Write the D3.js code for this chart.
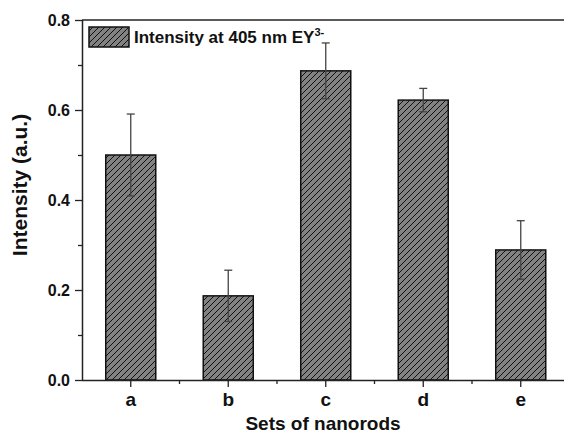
<!DOCTYPE html>
<html><head><meta charset="utf-8">
<script src="https://cdn.jsdelivr.net/npm/d3@7"></script>
<style>
body{margin:0;background:#fff;}
text{font-family:Arial,"Liberation Sans",Helvetica,sans-serif;font-weight:bold;fill:#111;}
</style></head><body>
<svg id="c" width="564" height="439"></svg>
<script>
const categories = ["a","b","c","d","e"];
const values = [0.500, 0.187, 0.687, 0.622, 0.289];
const errors = [0.091, 0.057, 0.062, 0.026, 0.065];
const yTicks = [0.0, 0.2, 0.4, 0.6, 0.8];
const yMinorTicks = [0.1, 0.3, 0.5, 0.7];
const legendLabel = "Intensity at 405 nm EY";
const legendSup = "3-";

const svg = d3.select("#c");
const mLeft = 82, mTop = 20, mBottom = 380, mRight = 569.5;
const x = d3.scaleBand().domain(categories).range([mLeft, mRight]).paddingInner(0.487).paddingOuter(0.2435);
const y = d3.scaleLinear().domain([0, 0.8]).range([mBottom, mTop]);

const defs = svg.append("defs");
const pat = defs.append("pattern").attr("id","hatch").attr("patternUnits","userSpaceOnUse")
  .attr("width",6).attr("height",6);
pat.append("rect").attr("width",6).attr("height",6).attr("fill","#828282");
pat.append("path").attr("d","M0,6 L6,0 M-1.5,1.5 L1.5,-1.5 M4.5,7.5 L7.5,4.5")
  .attr("stroke","#111").attr("stroke-width",1);

// bars
svg.append("g").selectAll("rect").data(categories).join("rect")
  .attr("x", d => x(d)).attr("width", x.bandwidth())
  .attr("y", (d,i) => y(values[i])).attr("height", (d,i) => y(0) - y(values[i]))
  .attr("fill","url(#hatch)").attr("stroke","#111").attr("stroke-width",1.5);

// error bars
const eg = svg.append("g").attr("stroke","#444").attr("stroke-width",1.3);
categories.forEach((c,i) => {
  const cx = x(c) + x.bandwidth()/2;
  const y1 = y(values[i] + errors[i]), y2 = y(values[i] - errors[i]);
  eg.append("line").attr("x1",cx).attr("x2",cx).attr("y1",y1).attr("y2",y2);
  eg.append("line").attr("x1",cx-4).attr("x2",cx+4).attr("y1",y1).attr("y2",y1);
  eg.append("line").attr("x1",cx-4).attr("x2",cx+4).attr("y1",y2).attr("y2",y2);
});

// y axis
const ya = svg.append("g").attr("transform",`translate(${mLeft},0)`)
  .call(d3.axisLeft(y).tickValues(yTicks).tickFormat(d3.format(".1f")).tickSize(7).tickPadding(5));
svg.append("g").attr("class","minor").attr("transform",`translate(${mLeft},0)`)
  .call(d3.axisLeft(y).tickValues(yMinorTicks).tickFormat("").tickSize(4))
  .select(".domain").remove();
// x axis
const xa = svg.append("g").attr("transform",`translate(0,${mBottom})`)
  .call(d3.axisBottom(x).tickSize(7).tickPadding(6));
const minorX = categories.slice(1).map(c => x(c) - x.step()*x.paddingInner()/2);
svg.append("g").selectAll("line").data(minorX).join("line")
  .attr("x1",d=>d).attr("x2",d=>d).attr("y1",mBottom).attr("y2",mBottom+4)
  .attr("stroke","#222").attr("stroke-width",1.3);
svg.selectAll(".domain").attr("stroke","#222").attr("stroke-width",1.5);
svg.selectAll(".tick line").attr("stroke","#222").attr("stroke-width",1.3);
ya.selectAll(".tick text").style("font-size","16px").attr("fill","#111");
xa.selectAll(".tick text").style("font-size","19px").attr("fill","#111");
xa.select(".domain").attr("d",`M${mLeft},0.5H564`);
ya.select(".domain").attr("d",`M0.5,${mBottom}V${mTop}`);
// top frame
svg.append("line").attr("x1",mLeft).attr("x2",564).attr("y1",mTop).attr("y2",mTop)
  .attr("stroke","#222").attr("stroke-width",1.5);

// titles
svg.append("text").attr("x",323).attr("y",430).attr("text-anchor","middle")
  .style("font-size","19px").text("Sets of nanorods");
svg.append("text").attr("transform","translate(27,185) rotate(-90)").attr("text-anchor","middle")
  .style("font-size","21px").text("Intensity (a.u.)");

// legend
svg.append("rect").attr("x",89).attr("y",27).attr("width",40).attr("height",20)
  .attr("fill","url(#hatch)").attr("stroke","#111").attr("stroke-width",1.5);
const lt = svg.append("text").attr("x",134).attr("y",43).style("font-size","17px");
lt.append("tspan").text(legendLabel);
lt.append("tspan").attr("dy",-7).style("font-size","11px").text(legendSup);
</script>
</body></html>
